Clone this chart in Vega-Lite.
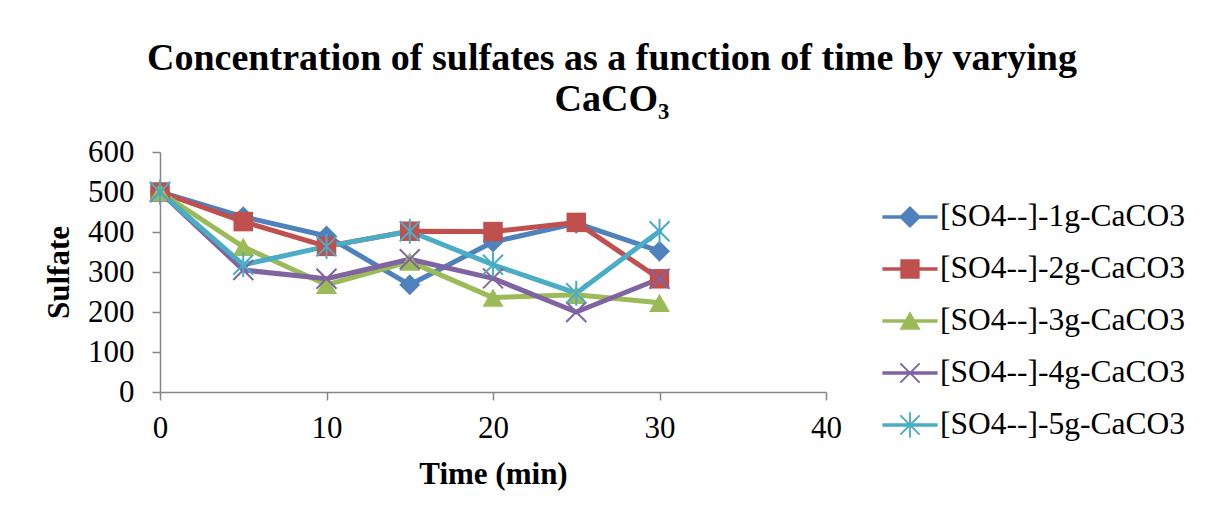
{
  "$schema": "https://vega.github.io/schema/vega-lite/v6.json",
  "width": 666,
  "height": 240,
  "autosize": {"type": "none"},
  "padding": {"left": 160, "top": 152, "right": 380, "bottom": 125},
  "background": "white",
  "title": {
    "text": ["Concentration of sulfates as a function of time by varying", "CaCO₃"],
    "anchor": "middle",
    "frame": "group",
    "dx": 119,
    "offset": 17,
    "fontSize": 38,
    "lineHeight": 41,
    "font": "Liberation Serif",
    "fontWeight": "bold",
    "color": "black"
  },
  "data": {
    "values": [
      {"series": "[SO4--]-1g-CaCO3", "time": 0, "sulfate": 500},
      {"series": "[SO4--]-1g-CaCO3", "time": 5, "sulfate": 438},
      {"series": "[SO4--]-1g-CaCO3", "time": 10, "sulfate": 390},
      {"series": "[SO4--]-1g-CaCO3", "time": 15, "sulfate": 268},
      {"series": "[SO4--]-1g-CaCO3", "time": 20, "sulfate": 375},
      {"series": "[SO4--]-1g-CaCO3", "time": 25, "sulfate": 422},
      {"series": "[SO4--]-1g-CaCO3", "time": 30, "sulfate": 352},
      {"series": "[SO4--]-2g-CaCO3", "time": 0, "sulfate": 500},
      {"series": "[SO4--]-2g-CaCO3", "time": 5, "sulfate": 426},
      {"series": "[SO4--]-2g-CaCO3", "time": 10, "sulfate": 364},
      {"series": "[SO4--]-2g-CaCO3", "time": 15, "sulfate": 402},
      {"series": "[SO4--]-2g-CaCO3", "time": 20, "sulfate": 401},
      {"series": "[SO4--]-2g-CaCO3", "time": 25, "sulfate": 424},
      {"series": "[SO4--]-2g-CaCO3", "time": 30, "sulfate": 283},
      {"series": "[SO4--]-3g-CaCO3", "time": 0, "sulfate": 500},
      {"series": "[SO4--]-3g-CaCO3", "time": 5, "sulfate": 363},
      {"series": "[SO4--]-3g-CaCO3", "time": 10, "sulfate": 268},
      {"series": "[SO4--]-3g-CaCO3", "time": 15, "sulfate": 326},
      {"series": "[SO4--]-3g-CaCO3", "time": 20, "sulfate": 236},
      {"series": "[SO4--]-3g-CaCO3", "time": 25, "sulfate": 243},
      {"series": "[SO4--]-3g-CaCO3", "time": 30, "sulfate": 223},
      {"series": "[SO4--]-4g-CaCO3", "time": 0, "sulfate": 500},
      {"series": "[SO4--]-4g-CaCO3", "time": 5, "sulfate": 305},
      {"series": "[SO4--]-4g-CaCO3", "time": 10, "sulfate": 283},
      {"series": "[SO4--]-4g-CaCO3", "time": 15, "sulfate": 332},
      {"series": "[SO4--]-4g-CaCO3", "time": 20, "sulfate": 284},
      {"series": "[SO4--]-4g-CaCO3", "time": 25, "sulfate": 200},
      {"series": "[SO4--]-4g-CaCO3", "time": 30, "sulfate": 283},
      {"series": "[SO4--]-5g-CaCO3", "time": 0, "sulfate": 500},
      {"series": "[SO4--]-5g-CaCO3", "time": 5, "sulfate": 318},
      {"series": "[SO4--]-5g-CaCO3", "time": 10, "sulfate": 364},
      {"series": "[SO4--]-5g-CaCO3", "time": 15, "sulfate": 402},
      {"series": "[SO4--]-5g-CaCO3", "time": 20, "sulfate": 318},
      {"series": "[SO4--]-5g-CaCO3", "time": 25, "sulfate": 247},
      {"series": "[SO4--]-5g-CaCO3", "time": 30, "sulfate": 402}
    ]
  },
  "encoding": {
    "x": {
      "field": "time",
      "type": "quantitative",
      "scale": {"domain": [0, 40], "nice": false},
      "axis": {"values": [0, 10, 20, 30, 40], "title": "Time (min)", "titlePadding": 16, "labelPadding": 13, "labelFlush": false}
    },
    "y": {
      "field": "sulfate",
      "type": "quantitative",
      "scale": {"domain": [0, 600], "nice": false},
      "axis": {"values": [0, 100, 200, 300, 400, 500, 600], "title": "Sulfate", "titlePadding": 12, "labelPadding": 18, "labelFlush": false}
    },
    "color": {
      "field": "series",
      "type": "nominal",
      "scale": {
        "domain": ["[SO4--]-1g-CaCO3", "[SO4--]-2g-CaCO3", "[SO4--]-3g-CaCO3", "[SO4--]-4g-CaCO3", "[SO4--]-5g-CaCO3"],
        "range": ["#4F81BD", "#C0504D", "#9BBB59", "#8064A2", "#4BACC6"]
      },
      "legend": {
        "title": null,
        "orient": "none",
        "legendX": 727,
        "legendY": 42,
        "symbolSize": 2116,
        "symbolOpacity": 1,
        "symbolStrokeWidth": 0,
        "labelFontSize": 31.5,
        "labelFont": "Liberation Serif",
        "labelColor": "black",
        "labelOffset": 7,
        "rowPadding": 13,
        "labelLimit": 400
      }
    }
  },
  "layer": [
    {
      "mark": {"type": "point", "filled": true, "opacity": 0},
      "encoding": {
        "shape": {
          "field": "series",
          "type": "nominal",
          "scale": {
            "domain": ["[SO4--]-1g-CaCO3", "[SO4--]-2g-CaCO3", "[SO4--]-3g-CaCO3", "[SO4--]-4g-CaCO3", "[SO4--]-5g-CaCO3"],
            "range": [
              "M-1.2,-0.08V0.08H1.2V-0.08ZM0,-0.48L-0.48,0L0,0.48L0.48,0Z",
              "M-1.2,-0.08V0.08H1.2V-0.08ZM-0.42,-0.42V0.42H0.42V-0.42Z",
              "M-1.2,-0.08V0.08H1.2V-0.08ZM0,-0.42L-0.46,0.38L0.46,0.38Z",
              "M-1.2,-0.08V0.08H1.2V-0.08ZM-0.45,-0.39L0.39,0.45L0.45,0.39L-0.39,-0.45ZM-0.39,0.45L0.45,-0.39L0.39,-0.45L-0.45,0.39Z",
              "M-1.2,-0.08V0.08H1.2V-0.08ZM-0.45,-0.39L0.39,0.45L0.45,0.39L-0.39,-0.45ZM-0.39,0.45L0.45,-0.39L0.39,-0.45L-0.45,0.39ZM-0.04,-0.55V0.55H0.04V-0.55Z"
            ]
          },
          "legend": {
            "title": null,
            "orient": "none",
            "legendX": 727,
            "legendY": 42,
            "symbolSize": 2116,
            "symbolOpacity": 1,
            "symbolStrokeWidth": 0,
            "labelFontSize": 31.5,
            "labelFont": "Liberation Serif",
            "labelColor": "black",
            "labelOffset": 7,
            "rowPadding": 13,
            "labelLimit": 400
          }
        }
      }
    },
    {
      "mark": {"type": "line", "strokeWidth": 5, "strokeJoin": "round", "strokeCap": "round"}
    },
    {
      "transform": [{"filter": {"field": "series", "equal": "[SO4--]-1g-CaCO3"}}],
      "mark": {"type": "point", "shape": "diamond", "filled": true, "size": 440, "opacity": 1}
    },
    {
      "transform": [{"filter": {"field": "series", "equal": "[SO4--]-2g-CaCO3"}}],
      "mark": {"type": "point", "shape": "square", "filled": true, "size": 380, "opacity": 1}
    },
    {
      "transform": [{"filter": {"field": "series", "equal": "[SO4--]-3g-CaCO3"}}],
      "mark": {"type": "point", "shape": "triangle-up", "filled": true, "size": 440, "opacity": 1}
    },
    {
      "transform": [{"filter": {"field": "series", "equal": "[SO4--]-4g-CaCO3"}}],
      "mark": {"type": "point", "shape": "M-1,-1L1,1M-1,1L1,-1", "filled": false, "size": 400, "strokeWidth": 2, "opacity": 1}
    },
    {
      "transform": [{"filter": {"field": "series", "equal": "[SO4--]-5g-CaCO3"}}],
      "mark": {"type": "point", "shape": "M-1,-1L1,1M-1,1L1,-1M0,-1.25L0,1.25", "filled": false, "size": 400, "strokeWidth": 2, "opacity": 1}
    }
  ],
  "config": {
    "font": "Liberation Serif",
    "view": {"stroke": null},
    "axis": {
      "grid": false,
      "domainColor": "#868686",
      "domainWidth": 1.5,
      "tickColor": "#868686",
      "tickWidth": 1.5,
      "tickSize": 8,
      "labelFont": "Liberation Serif",
      "labelFontSize": 31,
      "labelColor": "black",
      "titleFont": "Liberation Serif",
      "titleFontSize": 31,
      "titleFontWeight": "bold",
      "titleColor": "black"
    }
  }
}
